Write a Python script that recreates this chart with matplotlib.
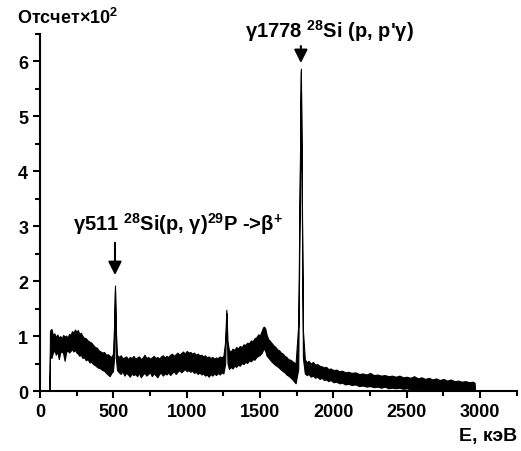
import numpy as np
import matplotlib as mpl
from matplotlib import pyplot as plt

mpl.rcParams['font.family'] = ['Liberation Sans', 'DejaVu Sans']
mpl.rcParams['font.weight'] = 'bold'
mpl.rcParams['mathtext.default'] = 'regular'

# spectrum: energy (keV) and the lower / upper edge
# of the noisy band (counts x100)
energy = [0, 62, 64, 68, 78, 88, 98, 108, 118, 128, 138, 148, 158, 168, 178, 188, 198,
          208, 218, 228, 238, 248, 258, 268, 278, 290, 300, 312, 325, 337, 350, 362, 375,
          387, 400, 412, 425, 437, 450, 462, 475, 487, 497, 505, 511, 517, 525, 537, 550,
          562, 575, 587, 600, 612, 625, 637, 650, 662, 675, 687, 700, 712, 725, 737, 750,
          762, 775, 787, 800, 812, 825, 837, 850, 862, 875, 887, 900, 912, 925, 937, 950,
          962, 975, 987, 1000, 1012, 1025, 1037, 1050, 1062, 1075, 1087, 1100, 1112, 1125,
          1137, 1150, 1162, 1175, 1187, 1200, 1212, 1225, 1237, 1250, 1262, 1270, 1278,
          1288, 1300, 1312, 1325, 1337, 1350, 1362, 1375, 1387, 1400, 1412, 1425, 1437,
          1450, 1462, 1475, 1487, 1500, 1512, 1520, 1528, 1536, 1545, 1555, 1567, 1580,
          1592, 1605, 1617, 1630, 1642, 1655, 1667, 1680, 1692, 1705, 1717, 1730, 1742,
          1760, 1778, 1792, 1805, 1818, 1830, 1845, 1860, 1875, 1890, 1905, 1920, 1935,
          1950, 1965, 1980, 2000, 2020, 2040, 2060, 2080, 2100, 2125, 2150, 2175, 2200,
          2225, 2250, 2275, 2300, 2325, 2350, 2375, 2400, 2425, 2450, 2475, 2500, 2525,
          2550, 2575, 2600, 2625, 2650, 2675, 2700, 2725, 2750, 2775, 2800, 2825, 2850,
          2875, 2900, 2925, 2950, 2962, 2966]
lower = [0, 0, 0, 0.65, 0.60, 0.70, 0.74, 0.66, 0.72, 0.58, 0.70, 0.73, 0.68, 0.55, 0.71, 0.74, 0.70,
         0.73, 0.76, 0.72, 0.75, 0.70, 0.68, 0.64, 0.66, 0.60, 0.62, 0.56, 0.58, 0.52, 0.53, 0.49, 0.47,
         0.44, 0.42, 0.41, 0.38, 0.37, 0.33, 0.30, 0.27, 0.33, 0.36, 0.60, 1.85, 0.60, 0.38, 0.34, 0.31,
         0.36, 0.28, 0.33, 0.30, 0.26, 0.32, 0.29, 0.31, 0.27, 0.33, 0.25, 0.30, 0.33, 0.28, 0.31, 0.34,
         0.27, 0.32, 0.29, 0.25, 0.31, 0.33, 0.28, 0.32, 0.30, 0.34, 0.29, 0.33, 0.36, 0.31, 0.35, 0.38,
         0.34, 0.37, 0.40, 0.36, 0.38, 0.35, 0.37, 0.33, 0.35, 0.31, 0.34, 0.30, 0.32, 0.28,
         0.30, 0.26, 0.31, 0.28, 0.32, 0.29, 0.33, 0.30, 0.34, 0.32, 0.50, 1.42, 0.50,
         0.40, 0.44, 0.41, 0.46, 0.44, 0.48, 0.46, 0.51, 0.49, 0.53, 0.51, 0.56, 0.54,
         0.58, 0.57, 0.62, 0.64, 0.66, 0.70, 0.75, 0.77, 0.72, 0.64, 0.61, 0.57, 0.53,
         0.50, 0.47, 0.45, 0.42, 0.39, 0.36, 0.34, 0.30, 0.28, 0.25, 0.22, 0.18, 0.14,
         0.40, 5.82, 0.60, 0.32, 0.29, 0.31, 0.26, 0.28, 0.24, 0.26, 0.22, 0.24, 0.20,
         0.21, 0.18, 0.20, 0.16, 0.17, 0.14, 0.15, 0.12, 0.13, 0.11, 0.12, 0.09, 0.10,
         0.08, 0.09, 0.07, 0.08, 0.06, 0.08, 0.05, 0.06, 0.05, 0.06, 0.04, 0.05, 0.03,
         0.04, 0.03, 0.04, 0.02, 0.03, 0.02, 0.03, 0.02, 0.02, 0.02, 0.02, 0.02, 0.02,
         0.02, 0.02, 0.02, 0.02, 0.02, 0]
upper = [0, 0, 0.02, 1.10, 1.13, 1.02, 1.05, 0.98, 1.03, 0.97, 1.00, 0.96, 1.02, 0.99, 1.01, 0.97, 1.04,
         1.02, 1.09, 1.06, 1.12, 1.08, 1.11, 1.04, 1.06, 1.00, 0.97, 0.96, 0.92, 0.90, 0.88, 0.84, 0.80,
         0.79, 0.74, 0.72, 0.70, 0.71, 0.66, 0.67, 0.64, 0.62, 0.68, 1.20, 1.92, 1.10, 0.66, 0.62, 0.65,
         0.60, 0.61, 0.63, 0.58, 0.62, 0.60, 0.64, 0.59, 0.61, 0.63, 0.58, 0.61, 0.66, 0.60, 0.62, 0.59,
         0.61, 0.64, 0.60, 0.62, 0.59, 0.63, 0.65, 0.61, 0.64, 0.62, 0.66, 0.68, 0.64, 0.67, 0.70, 0.66,
         0.69, 0.72, 0.68, 0.73, 0.70, 0.71, 0.68, 0.70, 0.66, 0.68, 0.65, 0.66, 0.63, 0.65,
         0.61, 0.63, 0.60, 0.62, 0.59, 0.61, 0.60, 0.63, 0.61, 0.64, 0.90, 1.48, 0.90,
         0.74, 0.72, 0.77, 0.75, 0.80, 0.78, 0.82, 0.80, 0.85, 0.84, 0.88, 0.87, 0.92,
         0.91, 0.96, 0.98, 1.03, 1.02, 1.10, 1.16, 1.17, 1.13, 1.02, 0.95, 0.91, 0.87,
         0.83, 0.80, 0.76, 0.74, 0.70, 0.68, 0.64, 0.62, 0.58, 0.57, 0.55, 0.52, 0.50,
         1.20, 5.87, 1.10, 0.58, 0.52, 0.55, 0.50, 0.53, 0.48, 0.49, 0.46, 0.45, 0.43,
         0.44, 0.40, 0.41, 0.38, 0.39, 0.36, 0.37, 0.34, 0.35, 0.33, 0.34, 0.31, 0.32,
         0.30, 0.33, 0.29, 0.30, 0.28, 0.29, 0.27, 0.28, 0.26, 0.28, 0.25, 0.26, 0.24,
         0.27, 0.23, 0.25, 0.22, 0.24, 0.21, 0.23, 0.20, 0.22, 0.19, 0.21, 0.18, 0.19,
         0.17, 0.18, 0.16, 0.17, 0.15, 0]

xticks = [0, 500, 1000, 1500, 2000, 2500, 3000]
yticks = [0, 1, 2, 3, 4, 5, 6]

fig = plt.figure(figsize=(5.21, 4.52), dpi=100)
ax = fig.add_axes([0.0768, 0.1327, 0.9152, 0.79])

ax.fill_between(energy, lower, upper, facecolor='k', edgecolor='k', linewidth=0.8)

ax.set_xlim(0, 3250)
ax.set_ylim(0, 6.5)
ax.set_xticks(xticks)
ax.set_yticks(yticks)
ax.xaxis.set_minor_locator(mpl.ticker.MultipleLocator(250))
ax.yaxis.set_minor_locator(mpl.ticker.MultipleLocator(0.5))
ax.spines['top'].set_visible(False)
ax.spines['right'].set_visible(False)
for s in ['left', 'bottom']:
    ax.spines[s].set_linewidth(1.5)
ax.tick_params(which='major', direction='out', length=5, width=1.5, labelsize=13)
ax.tick_params(which='minor', direction='out', length=3.5, width=1.5)

# peak labels with arrows
ax.annotate('', xy=(511, 2.06), xytext=(511, 2.75),
            arrowprops=dict(arrowstyle='-|>', color='k', lw=1.5, mutation_scale=20))
ax.text(225, 3.05, 'γ511 $^{28}$Si(p, γ)$^{29}$P ->β$^{+}$', fontsize=14.5,
        fontweight='bold', va='center', ha='left')
ax.annotate('', xy=(1778, 5.92), xytext=(1778, 6.33),
            arrowprops=dict(arrowstyle='-|>', color='k', lw=1.5, mutation_scale=20))
ax.text(1400, 6.57, 'γ1778 $^{28}$Si (p, p\'γ)', fontsize=14.5,
        fontweight='bold', va='center', ha='left', clip_on=False)

fig.text(0.033, 0.96, 'Отсчет×10$^{2}$', fontsize=13, fontweight='bold', va='center')
fig.text(0.992, 0.035, 'E, кэВ', fontsize=14, fontweight='bold', va='center', ha='right')

fig.savefig('out.png', dpi=100)
